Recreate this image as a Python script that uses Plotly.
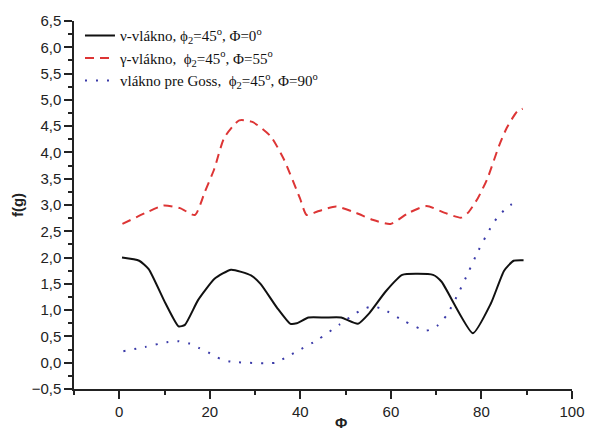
import plotly.graph_objects as go

# Black solid: nu-fibre
x_nu = [0.6, 4.4, 6.5, 10.2, 13.1, 14.5, 17.4, 21.1, 24.7, 29.1, 31.2, 34.9, 37.8, 39.2, 41.8, 45.5,
        49.0, 52.7, 55.2, 58.8, 62.5, 69.3, 71.2, 78.1, 82.1, 85.0, 87.1, 89.3]
y_nu = [2.00, 1.94, 1.78, 1.13, 0.69, 0.72, 1.19, 1.60, 1.77, 1.66, 1.50, 1.04, 0.74, 0.75, 0.86, 0.86,
        0.86, 0.74, 0.94, 1.35, 1.67, 1.67, 1.54, 0.56, 1.13, 1.75, 1.94, 1.95]

# Red dashed: gamma-fibre
x_gamma = [0.7, 5.8, 9.8, 13.4, 16.7, 18.9, 21.0, 23.2, 26.5, 29.4, 33.4, 36.3, 39.9, 41.4, 43.9, 47.9,
           52.3, 55.9, 59.9, 63.9, 67.9, 71.9, 75.5, 77.0, 79.2, 81.3, 83.9, 85.6, 87.9, 89.1]
y_gamma = [2.64, 2.85, 2.99, 2.94, 2.81, 3.25, 3.69, 4.28, 4.61, 4.58, 4.31, 3.88, 3.13, 2.81, 2.88, 2.97,
           2.85, 2.72, 2.64, 2.85, 2.98, 2.85, 2.76, 2.85, 3.13, 3.50, 4.13, 4.47, 4.78, 4.83]

# Blue dotted: Goss fibre
x_goss = [0.9, 5.7, 10.5, 12.9, 15.3, 17.6, 20.0, 22.4, 24.7, 34.5, 36.8, 39.1, 43.9, 48.7, 53.4, 55.9,
          58.2, 63.0, 67.8, 70.2, 72.3, 74.9, 77.1, 79.3, 81.9, 83.4, 85.6, 87.9]
y_goss = [0.22, 0.30, 0.39, 0.41, 0.37, 0.28, 0.18, 0.07, 0.02, 0.00, 0.10, 0.21, 0.44, 0.73, 1.00, 1.07,
          1.02, 0.79, 0.61, 0.70, 0.90, 1.32, 1.72, 2.13, 2.55, 2.75, 2.95, 3.08]

names = [
    "ν-vlákno, ϕ<sub>2</sub>=45<sup>o</sup>, Φ=0<sup>o</sup>",
    "γ-vlákno,  ϕ<sub>2</sub>=45<sup>o</sup>, Φ=55<sup>o</sup>",
    "vlákno pre Goss,  ϕ<sub>2</sub>=45<sup>o</sup>, Φ=90<sup>o</sup>",
]

fig = go.Figure()
fig.add_trace(go.Scatter(x=x_nu, y=y_nu, mode="lines", name=names[0],
                         line=dict(color="#111111", width=2, shape="spline", smoothing=0.5)))
fig.add_trace(go.Scatter(x=x_gamma, y=y_gamma, mode="lines", name=names[1],
                         line=dict(color="#dd3535", width=2, dash="9px,6px", shape="spline", smoothing=0.6)))
fig.add_trace(go.Scatter(x=x_goss, y=y_goss, mode="lines", name=names[2],
                         line=dict(color="#3a3aa8", width=2, dash="2px,9px", shape="spline", smoothing=0.6)))

axis_font = dict(family="Liberation Sans, Arial, sans-serif", size=15, color="#222222")

fig.update_layout(
    width=597, height=432,
    margin=dict(l=74, r=18, t=20, b=39),
    paper_bgcolor="white", plot_bgcolor="white",
    separators=", ",
    showlegend=True,
    legend=dict(x=0.012, y=1.005, xanchor="left", yanchor="top",
                bgcolor="rgba(0,0,0,0)",
                font=dict(family="Liberation Serif, Times New Roman, serif", size=15, color="#111111"),
                tracegroupgap=0),
    xaxis=dict(range=[-10, 100], tick0=0, dtick=20, showgrid=False, zeroline=False,
               showline=True, linecolor="#222222", linewidth=1.5,
               ticks="outside", ticklen=8, tickwidth=1.5, tickcolor="#222222",
               minor=dict(dtick=10, tick0=0, ticks="outside", ticklen=4, tickwidth=1.5, tickcolor="#222222"),
               tickfont=axis_font),
    yaxis=dict(range=[-0.5, 6.5], tick0=0, dtick=0.5, tickformat=".1f", showgrid=False, zeroline=False,
               showline=True, linecolor="#222222", linewidth=1.5,
               ticks="outside", ticklen=8, tickwidth=1.5, tickcolor="#222222",
               minor=dict(dtick=0.25, tick0=0, ticks="outside", ticklen=4, tickwidth=1.5, tickcolor="#222222"),
               tickfont=axis_font,
               title=dict(text="<b>f(g)</b>", standoff=4,
                          font=dict(family="Liberation Sans, Arial, sans-serif", size=15, color="#222222"))),
    annotations=[dict(text="<b>Φ</b>", xref="paper", yref="paper", x=0.537, y=-0.09,
                      xanchor="center", yanchor="middle", showarrow=False,
                      font=dict(family="Liberation Sans, Arial, sans-serif", size=15, color="#222222"))],
)

fig.write_html("out.html")
